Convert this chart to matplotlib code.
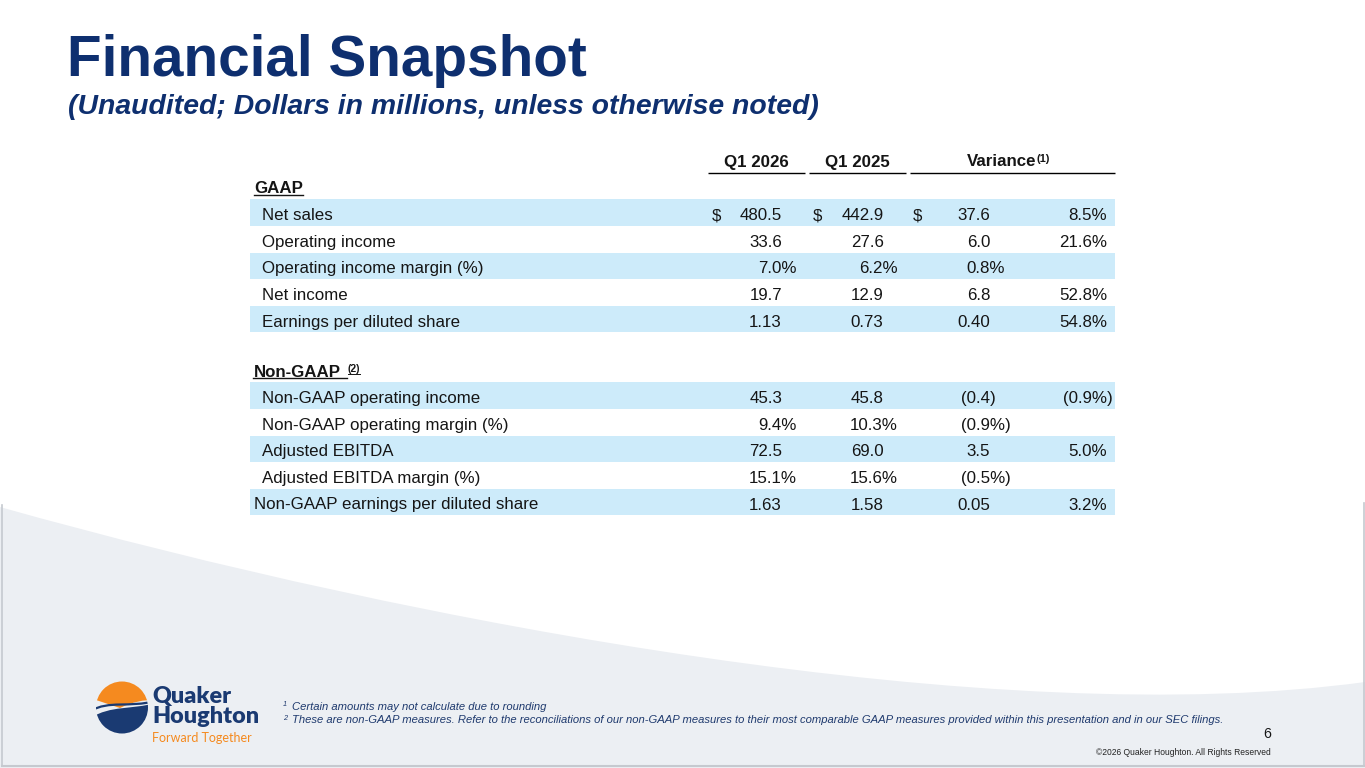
import matplotlib
matplotlib.use("Agg")
import matplotlib.pyplot as plt
from matplotlib.path import Path
from matplotlib.patches import PathPatch, Circle, Rectangle

# ---------------- data ----------------
title = "Financial Snapshot"
subtitle = "(Unaudited; Dollars in millions, unless otherwise noted)"
col_headers = ["Q1 2026", "Q1 2025", "Variance"]

gaap_labels = ["Net sales", "Operating income", "Operating income margin (%)",
               "Net income", "Earnings per diluted share"]
gaap_q1_2026 = [480.5, 33.6, 7.0, 19.7, 1.13]
gaap_q1_2025 = [442.9, 27.6, 6.2, 12.9, 0.73]
gaap_var = [37.6, 6.0, 0.8, 6.8, 0.40]
gaap_var_pct = [8.5, 21.6, None, 52.8, 54.8]
gaap_kind = ["$", "n", "%", "n", "e"]
gaap_indent = [True, True, True, True, True]

ng_labels = ["Non-GAAP operating income", "Non-GAAP operating margin (%)",
             "Adjusted EBITDA", "Adjusted EBITDA margin (%)",
             "Non-GAAP earnings per diluted share"]
ng_q1_2026 = [45.3, 9.4, 72.5, 15.1, 1.63]
ng_q1_2025 = [45.8, 10.3, 69.0, 15.6, 1.58]
ng_var = [-0.4, -0.9, 3.5, -0.5, 0.05]
ng_var_pct = [-0.9, None, 5.0, None, 3.2]
ng_kind = ["n", "%", "n", "%", "e"]
ng_indent = [True, True, True, True, False]

footnote1 = "Certain amounts may not calculate due to rounding"
footnote2 = ("These are non-GAAP measures. Refer to the reconciliations of our non-GAAP measures "
             "to their most comparable GAAP measures provided within this presentation and in our SEC filings.")
page_no = "6"
copyright_txt = "\u00a92026 Quaker Houghton. All Rights Reserved"

# ---------------- style ----------------
NAVY = "#0E2F6F"
BAND = "#CDEBFA"
TXT = "#151515"
GRAY_BG = "#ECEFF3"
FONT = "Liberation Sans"
W, H = 1365, 768

fig = plt.figure(figsize=(W / 100, H / 100), dpi=100)
ax = fig.add_axes([0, 0, 1, 1])
ax.set_xlim(0, W)
ax.set_ylim(H, 0)
ax.axis("off")
fig.patch.set_facecolor("white")

# background swoosh
verts = [(0, 507), (420, 625), (1000, 732), (1365, 682), (1365, 768), (0, 768), (0, 507)]
codes = [Path.MOVETO, Path.CURVE4, Path.CURVE4, Path.CURVE4, Path.LINETO, Path.LINETO, Path.CLOSEPOLY]
ax.add_patch(PathPatch(Path(verts, codes), facecolor=GRAY_BG, edgecolor="none", zorder=0))
ax.plot([1.5, 1.5], [505, 765.5], color="#C5C9CF", lw=1.2, zorder=1)
ax.plot([1363.5, 1363.5], [503, 765.5], color="#C5C9CF", lw=1.2, zorder=1)
ax.plot([1.5, 1363.5], [765.5, 765.5], color="#C5C9CF", lw=1.5, zorder=1)

# titles
ax.text(67, 75.5, title, fontsize=40.8, fontweight="bold", color=NAVY, family=FONT, va="baseline")
ax.text(68, 114, subtitle, fontsize=20.4, fontweight="bold", style="italic", color=NAVY,
        family=FONT, va="baseline")

FS = 12.2
# column headers
hdr_base = 166.5
ax.text(756.5, hdr_base, col_headers[0], fontsize=FS, fontweight="bold", color=TXT, family=FONT,
        ha="center", va="baseline")
ax.text(857.5, hdr_base, col_headers[1], fontsize=FS, fontweight="bold", color=TXT, family=FONT,
        ha="center", va="baseline")
ax.text(1036, hdr_base, col_headers[2], fontsize=FS, fontweight="bold", color=TXT, family=FONT,
        ha="right", va="baseline")
ax.text(1036.5, hdr_base - 5, "(1)", fontsize=8, fontweight="bold", color=TXT, family=FONT,
        ha="left", va="baseline")
for x0, x1 in [(708, 805), (809, 906), (910, 1115)]:
    ax.plot([x0, x1], [172.7, 172.7], color="black", lw=1.0, solid_capstyle="butt")

# table helpers
ROW_H = 26.6
BAND_X0, BAND_X1 = 250, 1115
cols = [(712, 782, 797), (813, 883.5, 898), (913, 990, 1005)]
VAR_PCT_X = 1107


def draw_value(v, kind, dollar_x, num_x, pct_x, y, show_dollar):
    pct = kind == "%"
    dec = 2 if kind == "e" else 1
    s = f"{abs(v):.{dec}f}" + ("%" if pct else "")
    neg = v < 0
    if neg:
        s = "(" + s
    x = pct_x if pct else num_x
    ax.text(x, y, s, fontsize=FS, color=TXT, family=FONT, ha="right", va="baseline")
    if neg:
        ax.text(x, y, ")", fontsize=FS, color=TXT, family=FONT, ha="left", va="baseline")
    if show_dollar:
        ax.text(dollar_x, y, "$", fontsize=FS, color=TXT, family=FONT, ha="left", va="baseline")


def draw_group(top, labels, a, b, var, varpct, kinds, indent):
    for i, lab in enumerate(labels):
        t = top + i * ROW_H
        if i % 2 == 0:
            ax.add_patch(Rectangle((BAND_X0, t), BAND_X1 - BAND_X0, ROW_H, facecolor=BAND,
                                   edgecolor="none", zorder=0.5))
        yb = t + 20.8
        ax.text(262.5 if indent[i] else 254, yb, lab, fontsize=FS, color=TXT, family=FONT,
                va="baseline")
        money = kinds[i] == "$"
        k = "n" if money else kinds[i]
        for c, vals in enumerate([a, b, var]):
            draw_value(vals[i], k, cols[c][0], cols[c][1], cols[c][2], yb, money)
        if varpct[i] is not None:
            draw_value(varpct[i], "%", 0, VAR_PCT_X, VAR_PCT_X, yb, False)


# GAAP section
ax.text(254, 193.3, "GAAP", fontsize=FS, fontweight="bold", color=TXT, family=FONT, va="baseline")
ax.plot([254, 302.5], [195.0, 195.0], color=TXT, lw=1.0)
draw_group(199.3, gaap_labels, gaap_q1_2026, gaap_q1_2025, gaap_var, gaap_var_pct,
           gaap_kind, gaap_indent)

# Non-GAAP section
ax.text(254, 376.7, "Non-GAAP", fontsize=FS, fontweight="bold", color=TXT, family=FONT, va="baseline")
ax.text(348, 372, "(2)", fontsize=7.5, fontweight="bold", color=TXT, family=FONT, va="baseline")
ax.plot([253, 346.5], [378.4, 378.4], color=TXT, lw=1.0)
ax.plot([348, 360], [373.6, 373.6], color=TXT, lw=0.7)
draw_group(382.3, ng_labels, ng_q1_2026, ng_q1_2025, ng_var, ng_var_pct, ng_kind, ng_indent)

# footnotes
FN = "#1F3A6E"
ax.text(283, 706.5, "1", fontsize=5.3, style="italic", color=FN, family=FONT, va="baseline")
ax.text(291.5, 710, footnote1, fontsize=8.12, style="italic", color=FN, family=FONT, va="baseline")
ax.text(283, 719.5, "2", fontsize=5.3, style="italic", color=FN, family=FONT, va="baseline")
ax.text(291.5, 723.3, footnote2, fontsize=8.12, style="italic", color=FN, family=FONT, va="baseline")
ax.text(1271, 738.3, page_no, fontsize=10.2, color=TXT, family=FONT, ha="right", va="baseline")
ax.text(1271, 755, copyright_txt, fontsize=6.15, color="#222222", family=FONT, ha="right", va="baseline")

# logo
ORANGE = "#F58A1F"
LNAVY = "#1A3A72"
cx, cy, r = 122, 707.5, 26
clip = Circle((cx, cy), r, transform=ax.transData)
top_v = [(90, 670), (156, 670), (156, 700), (138, 699), (120, 708), (90, 698), (90, 670)]
top_c = [Path.MOVETO, Path.LINETO, Path.LINETO, Path.CURVE3, Path.CURVE3, Path.LINETO, Path.CLOSEPOLY]
p_top = PathPatch(Path(top_v, top_c), facecolor=ORANGE, edgecolor="none", zorder=3)
ax.add_patch(p_top)
p_top.set_clip_path(clip)
bot_v = [(90, 718), (112, 705), (130, 710), (156, 703), (156, 740), (90, 740), (90, 718)]
bot_c = [Path.MOVETO, Path.CURVE4, Path.CURVE4, Path.CURVE4, Path.LINETO, Path.LINETO, Path.CLOSEPOLY]
p_bot = PathPatch(Path(bot_v, bot_c), facecolor=LNAVY, edgecolor="none", zorder=3)
ax.add_patch(p_bot)
p_bot.set_clip_path(clip)
mid_v = [(90, 711), (110, 700), (128, 708), (156, 701)]
mid_c = [Path.MOVETO, Path.CURVE4, Path.CURVE4, Path.CURVE4]
p_mid = PathPatch(Path(mid_v, mid_c), facecolor="none", edgecolor=LNAVY, lw=1.6, zorder=3)
ax.add_patch(p_mid)
p_mid.set_clip_path(clip)
ax.text(152.5, 703.5, "Quaker", fontsize=16.8, fontweight="heavy", color=LNAVY, family="Lato",
        va="baseline")
ax.text(152.5, 723, "Houghton", fontsize=16.8, fontweight="heavy", color=LNAVY, family="Lato",
        va="baseline")
ax.text(152.5, 742, "Forward Together", fontsize=9.0, color=ORANGE, family="Lato", va="baseline")

fig.savefig("out.png", dpi=100, facecolor="white")
